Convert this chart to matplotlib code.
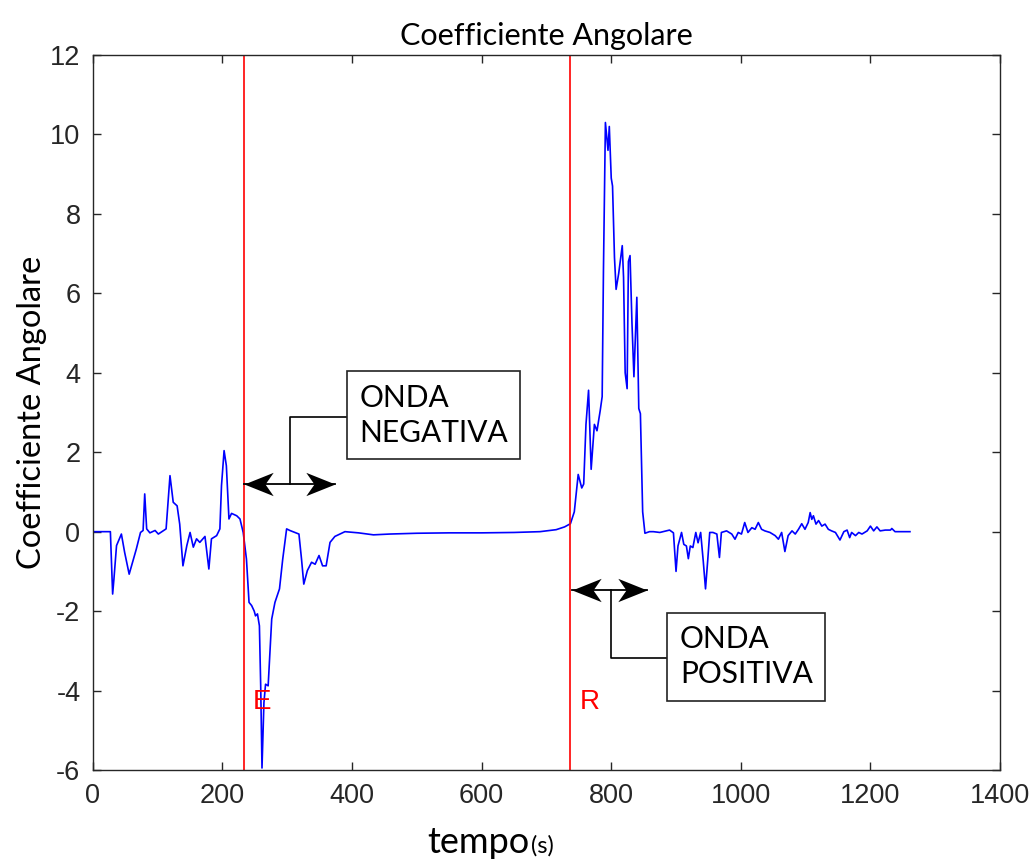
import matplotlib
matplotlib.use('Agg')
import matplotlib.pyplot as plt
from matplotlib.path import Path
import numpy as np

plt.rcParams['axes.unicode_minus'] = False

# time (s) and angular coefficient, in pieces
t_start = [0, 27, 29, 30.5, 32.5, 36.5, 44, 49, 56, 67, 73.5, 77.5, 80, 83, 88, 96, 101,
           113, 119, 124, 130, 134, 139, 145, 150, 155, 160, 165, 173, 179, 183, 191,
           196, 198.5, 202.5, 206, 210, 214, 222, 227, 232]
c_start = [0, 0, -0.94, -1.57, -1.19, -0.35, -0.06, -0.52, -1.07, -0.44, -0.02, 0.03, 0.95, 0.07, -0.03, 0.03, -0.06,
           0.07, 1.41, 0.74, 0.65, 0.19, -0.86, -0.35, -0.02, -0.39, -0.18, -0.27, -0.12, -0.94, -0.18, -0.1,
           0.07, 1.16, 2.04, 1.66, 0.32, 0.46, 0.40, 0.32, -0.02]

t_neg = [237, 241, 245, 249, 251, 254, 257, 259, 261, 264, 266.5, 270.5, 276, 281, 288, 293,
         299, 304, 318, 322, 325.5, 331, 337.5, 343, 349, 354.5, 360, 366, 373.5, 389]
c_neg = [-0.69, -1.78, -1.86, -2.0, -2.12, -2.07, -2.37, -3.88, -5.95, -4.3, -3.84, -3.88, -2.2, -1.78, -1.44, -0.69,
         0.07, 0.03, -0.06, -0.69, -1.32, -0.98, -0.77, -0.82, -0.6, -0.86, -0.86, -0.27, -0.12, 0.0]

t_flat = [410, 433, 458, 500, 550, 600, 650, 690, 715, 728]
c_flat = [-0.03, -0.08, -0.06, -0.04, -0.03, -0.03, -0.02, 0.0, 0.05, 0.12]

t_pos = [737, 743, 749, 754.5, 757.5, 761, 765, 769, 774, 778, 783, 786, 788, 791, 795, 797,
         800, 802, 805, 807.5, 811.5, 817, 819, 821.5, 824.5, 826.5, 829, 832, 835, 839.5,
         842.5, 845, 848.5, 852]
c_pos = [0.2, 0.5, 1.44, 1.1, 1.2, 2.7, 3.56, 1.57, 2.7, 2.54, 3.05, 3.4, 6.6, 10.3, 9.6, 10.2,
         8.9, 8.7, 6.9, 6.1, 6.5, 7.2, 6.4, 4.0, 3.6, 6.8, 6.95, 5.25, 3.9, 5.9,
         3.1, 2.97, 0.5, -0.04]

t_end = [859, 865, 875, 890, 896, 900, 903, 908.5, 912, 916, 919, 922, 926, 930.5, 934, 938,
         942, 945.5, 949, 952, 957, 963, 967, 970, 978, 986, 991, 996, 1001, 1006, 1011,
         1017, 1022, 1027, 1032, 1037, 1045, 1053, 1058, 1063, 1068, 1073, 1079, 1084, 1089,
         1094, 1099, 1104, 1107, 1109.5, 1112, 1116, 1120, 1125, 1130, 1135, 1140, 1146, 1153,
         1159, 1164, 1168, 1171, 1177, 1182, 1187, 1195, 1200, 1205, 1210, 1215, 1223, 1231,
         1233, 1238, 1261]
c_end = [0.0, 0.0, -0.02, 0.04, -0.03, -1.0, -0.36, -0.02, -0.32, -0.36, -0.68, -0.36, -0.4, -0.02, -0.28, -0.02,
         -0.74, -1.44, -0.7, -0.02, -0.02, -0.06, -0.65, -0.02, 0.02, -0.06, -0.19, -0.02, -0.06, 0.23, -0.02,
         0.1, 0.06, 0.23, 0.06, 0.02, -0.02, -0.1, -0.19, -0.02, -0.5, -0.1, 0.02, -0.06, 0.06,
         0.2, 0.06, 0.23, 0.48, 0.31, 0.4, 0.19, 0.28, 0.14, 0.19, 0.06, 0.02, -0.02, -0.21,
         0.0, 0.04, -0.15, -0.02, -0.1, -0.02, -0.06, 0.02, 0.14, 0.02, 0.12, 0.02, 0.04, 0.04,
         0.08, 0.0, 0.0]

t_E = 233
t_R = 736

tempo = np.array(t_start + t_neg + t_flat + t_pos + t_end)
coeff = np.array(c_start + c_neg + c_flat + c_pos + c_end)

# swept arrow heads (tip at origin)
head_left = Path([(0, 0), (1, 0.4), (0.72, 0), (1, -0.4), (0, 0)],
                 [Path.MOVETO, Path.LINETO, Path.LINETO, Path.LINETO, Path.CLOSEPOLY])
head_right = Path([(0, 0), (-1, 0.4), (-0.72, 0), (-1, -0.4), (0, 0)],
                  [Path.MOVETO, Path.LINETO, Path.LINETO, Path.LINETO, Path.CLOSEPOLY])


def double_arrow(ax, x0, x1, y):
    ax.plot([x0, x1], [y, y], color='black', lw=1.3)
    ax.plot([x0], [y], marker=head_left, ms=42, color='black', mew=0, ls='none')
    ax.plot([x1], [y], marker=head_right, ms=42, color='black', mew=0, ls='none')


fig = plt.figure(figsize=(10.32, 8.59), dpi=100)
ax = fig.add_axes([0.090, 0.1036, 0.879, 0.8324])

ax.plot(tempo, coeff, color='#0000ff', lw=1.2)
ax.axvline(t_E, color='red', lw=1.2)
ax.axvline(t_R, color='red', lw=1.2)

ax.set_xlim(0, 1400)
ax.set_ylim(-6, 12)
ax.set_xticks(np.arange(0, 1401, 200))
ax.set_yticks(np.arange(-6, 13, 2))
ax.tick_params(direction='in', length=6, width=1, colors='#262626', labelsize=19.5,
               top=True, right=True, pad=9)
for lab in ax.get_xticklabels() + ax.get_yticklabels():
    lab.set_fontfamily('Liberation Sans')
for s in ax.spines.values():
    s.set_color('#262626')
    s.set_linewidth(1)

ax.set_title('Coefficiente Angolare', fontsize=22, family='Lato', pad=7)
ax.set_ylabel('Coefficiente Angolare', fontsize=23.5, family='Lato', labelpad=2)
fig.text(530 / 1032, 1 - 853 / 859, 'tempo', fontsize=26, family='Lato',
         ha='right', va='baseline')
fig.text(531 / 1032, 1 - 853 / 859, '(s)', fontsize=17, family='Lato',
         ha='left', va='baseline')

# event labels
ax.text(261, -4.3, 'E', color='red', fontsize=20, ha='center', va='center', family='Liberation Sans')
ax.text(767, -4.3, 'R', color='red', fontsize=20, ha='center', va='center', family='Liberation Sans')

# onda negativa
double_arrow(ax, 233, 373, 1.2)
ax.plot([304, 304, 392], [1.2, 2.89, 2.89], color='black', lw=1.2)
ax.text(411, 2.93, 'ONDA\nNEGATIVA', fontsize=21.5, family='Lato', va='center', ha='left',
        linespacing=1.3,
        bbox=dict(boxstyle='square,pad=0.42', fc='white', ec='#222222', lw=1.2))

# onda positiva
double_arrow(ax, 740, 855, -1.47)
ax.plot([799, 799, 887], [-1.47, -3.18, -3.18], color='black', lw=1.2)
ax.text(906, -3.15, 'ONDA\nPOSITIVA', fontsize=21.5, family='Lato', va='center', ha='left',
        linespacing=1.3,
        bbox=dict(boxstyle='square,pad=0.42', fc='white', ec='#222222', lw=1.2))

fig.savefig('out.png', dpi=100)
